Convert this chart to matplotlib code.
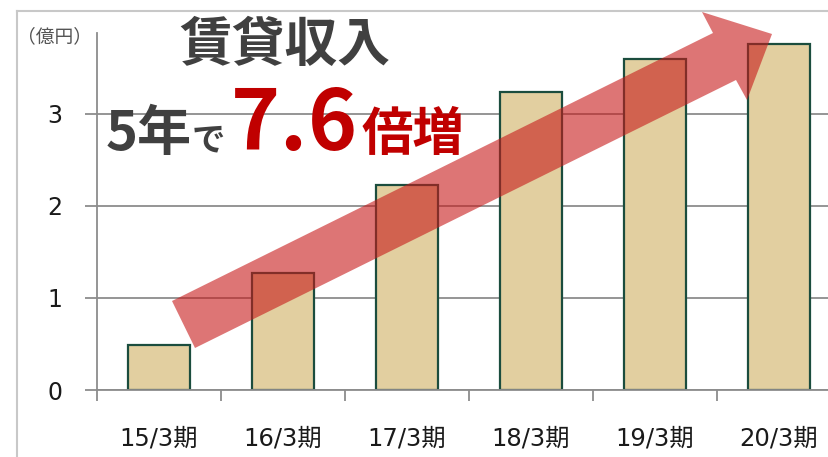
import matplotlib
matplotlib.use('Agg')
import matplotlib.pyplot as plt
from matplotlib.patches import Polygon
from matplotlib.lines import Line2D

plt.rcParams['font.family'] = ['Noto Sans CJK JP', 'DejaVu Sans']

# данные
periods = ['15/3期', '16/3期', '17/3期', '18/3期', '19/3期', '20/3期']
income = [0.49, 1.27, 2.23, 3.24, 3.60, 3.76]
yticks = [0, 1, 2, 3]

W, H = 829, 457
fig = plt.figure(figsize=(W / 100, H / 100), dpi=100)

def fx(px):
    return px / W

def fy(py):
    return 1 - py / H

# рамка слайда сверху и слева
fig.add_artist(Line2D([fx(17), 1], [fy(11), fy(11)], color='#c8c8c8', lw=1.5))
fig.add_artist(Line2D([fx(17), fx(17)], [fy(11), 0], color='#c8c8c8', lw=1.5))

ax = fig.add_axes([fx(97), fy(390), fx(829) - fx(97), fy(33) - fy(390)])
x = range(len(periods))
ax.set_axisbelow(True)
ax.bar(x, income, width=0.5, color='#e2cfa0', edgecolor='#1b4d3e', linewidth=1.6, zorder=2)

lab_font = ['DejaVu Sans', 'Noto Sans CJK JP']
ax.set_yticks(yticks)
ax.set_yticklabels([str(v) for v in yticks], fontsize=17, color='#1a1a1a', family=lab_font)
ax.yaxis.grid(True, color='#8c8c8c', lw=1.3)
ax.set_xticks([i - 0.5 for i in range(len(periods) + 1)])
ax.set_xticklabels([])
ax.set_xticks(list(x), minor=True)
ax.set_xticklabels(periods, minor=True, fontsize=17.5, color='#1a1a1a', family=lab_font)
ax.tick_params(axis='x', which='major', length=8, color='#8c8c8c', width=1.3)
ax.tick_params(axis='x', which='minor', length=0, pad=26)
ax.tick_params(axis='y', length=9, color='#8c8c8c', width=1.3, pad=16)
ax.set_xlim(-0.5, -0.5 + (829 - 97) / 124)
ax.set_ylim(0, 3.88)
for s in ['top', 'right']:
    ax.spines[s].set_visible(False)
for s in ['left', 'bottom']:
    ax.spines[s].set_color('#8c8c8c')
    ax.spines[s].set_linewidth(1.3)
    ax.spines[s].set_zorder(3)

# стрелка
arrow_px = [(172, 301), (713, 33), (702, 12), (772, 34), (747, 100), (736, 80), (195, 348)]
arrow = Polygon([(fx(a), fy(b)) for a, b in arrow_px], closed=True, transform=fig.transFigure,
                facecolor=(0.78, 0.1, 0.1), alpha=0.6, edgecolor='none', zorder=5)
fig.add_artist(arrow)

fig.text(fx(17), fy(37), '（億円）', fontsize=13.5, color='#555555', va='center', ha='left')

fig.text(fx(285), fy(45), '賃貸収入', fontsize=38, fontweight='bold', color='#404040',
         ha='center', va='center')
base = fy(150)
fig.text(fx(106), base, '5年', fontsize=39, fontweight='bold', color='#404040', va='baseline')
fig.text(fx(192), base, 'で', fontsize=24, fontweight='bold', color='#404040', va='baseline')
fig.text(fx(231), base, '7', fontsize=60, fontweight='bold', color='#c00000', va='baseline')
fig.text(fx(279), base, '.', fontsize=60, fontweight='bold', color='#c00000', va='baseline')
fig.text(fx(308), base, '6', fontsize=60, fontweight='bold', color='#c00000', va='baseline')
fig.text(fx(362), base, '倍増', fontsize=37, fontweight='bold', color='#c00000', va='baseline')

fig.savefig('out.png', dpi=100)
